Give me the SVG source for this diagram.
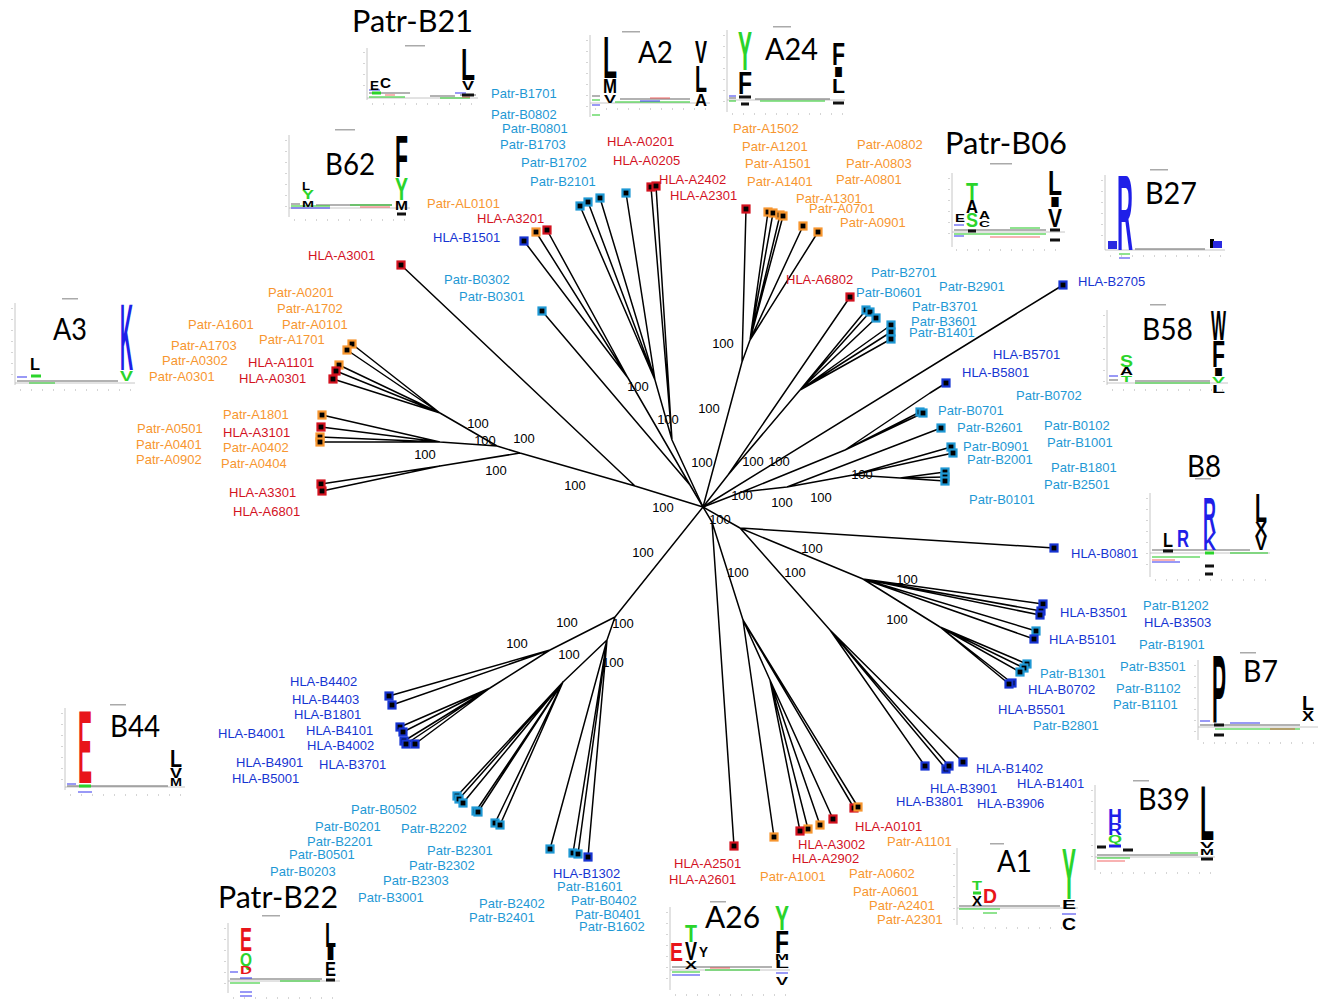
<svg xmlns="http://www.w3.org/2000/svg" xmlns:xlink="http://www.w3.org/1999/xlink" width="1329" height="1007" viewBox="0 0 1329 1007">
<style>
.t{font-family:"Liberation Sans",Arial,sans-serif;font-size:13px}
.pa{fill:#F7962F}.ha{fill:#D3121F}.pb{fill:#1E98D4}.hb{fill:#1734D2}
.bs{font-family:"Liberation Sans",Arial,sans-serif;font-size:13px;fill:#000;text-anchor:middle}
.big{font-family:Lato,"Open Sans",sans-serif;font-size:31px;fill:#000}
.e{stroke:#000;stroke-width:1.5;fill:none;stroke-linejoin:round}
.so,.sr,.sc,.sb{fill:#000;stroke-width:2.2}
.so{stroke:#F7962F}.sr{stroke:#D3121F}.sc{stroke:#1E98D4}.sb{stroke:#1734D2}
.ax{stroke:#b8b8b8;stroke-width:0.8;fill:none}
.tk{stroke:#c8c8c8;stroke-width:1.5;stroke-dasharray:1 10;fill:none}
.ti{fill:#aaa}
.L{font-family:"Liberation Sans",Arial,sans-serif;font-weight:700;font-size:20px}
.k{fill:#000}.g{fill:#2BD42B}.b{fill:#1F1FE8}.r{fill:#E8141A}
.s1{stroke:#555;stroke-width:2;opacity:.45;fill:none}
.s2{stroke:#33cc33;stroke-width:2;opacity:.55;fill:none}
.s3{stroke:#3333ee;stroke-width:2;opacity:.5;fill:none}
.s4{stroke:#e33;stroke-width:1.5;opacity:.5;fill:none}
.bk{stroke:#111;stroke-width:3;fill:none}
.bg{stroke:#2BD42B;stroke-width:3;fill:none}
.bb{stroke:#1F1FE8;stroke-width:3;fill:none}
</style>
<defs>
<rect id="sq" x="-3.5" y="-3.5" width="7" height="7"/>
</defs>

<g id="connectors">
<path class="e" d="M703 507 L635 486 L401 265 M635 486 L520 453 L440 466 L321 484 M440 466 L322 491 M520 453 L497 446 L440 442 L322 415 M440 442 L321 427 M440 442 L320 437 M440 442 L320 442 M497 446 L440 413 L352 344 M440 413 L347 350 M440 413 L339 365 M440 413 L336 371 M440 413 L333 379"/>
<path class="e" d="M703 507 L690 485 L628 378 L524 241 M628 378 L536 232 M628 378 L547 230 M690 485 L542 311"/>
<path class="e" d="M703 507 L672 440 L655 380 L580 206 M655 380 L588 202 M655 380 L600 198 M655 380 L626 193 M672 440 L651 187 M672 440 L656 186"/>
<path class="e" d="M703 507 L742 362 L746 209 M742 362 L750 340 L768 212 M750 340 L773 213 M750 340 L780 215 M750 340 L783 216 M750 340 L803 226 M750 340 L818 232"/>
<path class="e" d="M703 507 L728 475 L850 297 M728 475 L800 390 L866 310 M800 390 L870 312 M800 390 L876 318 M800 390 L891 325 M800 390 L891 332 M800 390 L891 339 M703 507 L1063 285"/>
<path class="e" d="M703 507 L742 492 L845 450 L930 393 L946 383 M845 450 L920 412 M845 450 L923 413 M742 492 L787 487 L941 428 M787 487 L853 475 L951 447 M853 475 L953 453 M853 475 L900 478 L945 472 M900 478 L945 477 M900 478 L945 481"/>
<path class="e" d="M703 507 L740 528 L1054 548 M740 528 L863 579 L1043 604 M863 579 L1041 611 M863 579 L1040 615 M863 579 L1036 631 M863 579 L1034 639 M863 579 L940 627 L1027 664 M940 627 L1024 668 M940 627 L1020 672 M940 627 L1012 683 M940 627 L1009 684 M740 528 L830 630 L925 766 M830 630 L946 769 M830 630 L949 766 M830 630 L963 762"/>
<path class="e" d="M703 507 L712 522 L734 846 M712 522 L743 620 L774 837 M743 620 L770 680 L800 831 M770 680 L808 829 M770 680 L820 825 M770 680 L833 819 M743 620 L854 808 M743 620 L858 807"/>
<path class="e" d="M703 507 L615 617 L550 650 L389 696 M550 650 L392 705 M550 650 L490 688 L400 727 M490 688 L403 732 M490 688 L404 741 M490 688 L406 744 M490 688 L415 744 M615 617 L607 640 L563 682 L457 796 M563 682 L459 799 M563 682 L463 803 M563 682 L476 811 M563 682 L478 812 M563 682 L495 823 M563 682 L500 825 M607 640 L550 849 M607 640 L573 853 M607 640 L578 854 M607 640 L588 857"/>
<g id="bootstrap">
<text class="bs" x="478" y="427.5">100</text><text class="bs" x="485" y="444.5">100</text><text class="bs" x="524" y="442.5">100</text><text class="bs" x="425" y="458.5">100</text><text class="bs" x="496" y="474.5">100</text><text class="bs" x="575" y="489.5">100</text><text class="bs" x="663" y="511.5">100</text><text class="bs" x="638" y="390.5">100</text><text class="bs" x="668" y="423.5">100</text><text class="bs" x="709" y="412.5">100</text><text class="bs" x="702" y="466.5">100</text><text class="bs" x="723" y="347.5">100</text><text class="bs" x="753" y="465.5">100</text><text class="bs" x="779" y="465.5">100</text><text class="bs" x="742" y="499.5">100</text><text class="bs" x="782" y="506.5">100</text><text class="bs" x="821" y="501.5">100</text><text class="bs" x="862" y="478.5">100</text><text class="bs" x="720" y="523.5">100</text><text class="bs" x="812" y="552.5">100</text><text class="bs" x="738" y="576.5">100</text><text class="bs" x="795" y="576.5">100</text><text class="bs" x="907" y="583.5">100</text><text class="bs" x="897" y="623.5">100</text><text class="bs" x="643" y="556.5">100</text><text class="bs" x="567" y="626.5">100</text><text class="bs" x="623" y="627.5">100</text><text class="bs" x="517" y="647.5">100</text><text class="bs" x="569" y="658.5">100</text><text class="bs" x="613" y="666.5">100</text>
</g>
</g>

<g id="node-A3001"><use href="#sq" class="sr" x="401" y="265"/><text class="t ha" x="308" y="259.5">HLA-A3001</text></g>
<g id="node-A3top"><use href="#sq" class="so" x="352" y="344"/><use href="#sq" class="so" x="347" y="350"/><use href="#sq" class="so" x="339" y="365"/><use href="#sq" class="sr" x="336" y="371"/><use href="#sq" class="sr" x="333" y="379"/>
<text class="t pa" x="268" y="296.5">Patr-A0201</text><text class="t pa" x="277" y="312.5">Patr-A1702</text><text class="t pa" x="188" y="328.5">Patr-A1601</text><text class="t pa" x="282" y="328.5">Patr-A0101</text><text class="t pa" x="259" y="343.5">Patr-A1701</text><text class="t pa" x="171" y="349.5">Patr-A1703</text><text class="t pa" x="162" y="364.5">Patr-A0302</text><text class="t ha" x="248" y="366.5">HLA-A1101</text><text class="t pa" x="149" y="380.5">Patr-A0301</text><text class="t ha" x="239" y="382.5">HLA-A0301</text></g>
<g id="node-A3mid"><use href="#sq" class="so" x="322" y="415"/><use href="#sq" class="sr" x="321" y="427"/><use href="#sq" class="so" x="320" y="437"/><use href="#sq" class="so" x="320" y="442"/>
<text class="t pa" x="223" y="418.5">Patr-A1801</text><text class="t pa" x="137" y="432.5">Patr-A0501</text><text class="t ha" x="223" y="436.5">HLA-A3101</text><text class="t pa" x="136" y="448.5">Patr-A0401</text><text class="t pa" x="223" y="451.5">Patr-A0402</text><text class="t pa" x="136" y="463.5">Patr-A0902</text><text class="t pa" x="221" y="467.5">Patr-A0404</text></g>
<g id="node-A33"><use href="#sq" class="sr" x="321" y="484"/><use href="#sq" class="sr" x="322" y="491"/><text class="t ha" x="229" y="496.5">HLA-A3301</text><text class="t ha" x="233" y="515.5">HLA-A6801</text></g>
<g id="node-B15"><use href="#sq" class="sb" x="524" y="241"/><use href="#sq" class="so" x="536" y="232"/><use href="#sq" class="sr" x="547" y="230"/><text class="t pa" x="427" y="207.5">Patr-AL0101</text><text class="t ha" x="477" y="222.5">HLA-A3201</text><text class="t hb" x="433" y="241.5">HLA-B1501</text></g>
<g id="node-B03"><use href="#sq" class="sc" x="542" y="311"/><text class="t pb" x="444" y="283.5">Patr-B0302</text><text class="t pb" x="459" y="300.5">Patr-B0301</text></g>
<g id="node-B17"><use href="#sq" class="sc" x="580" y="206"/><use href="#sq" class="sc" x="588" y="202"/><use href="#sq" class="sc" x="600" y="198"/><use href="#sq" class="sc" x="626" y="193"/>
<text class="t pb" x="491" y="97.5">Patr-B1701</text><text class="t pb" x="491" y="118.5">Patr-B0802</text><text class="t pb" x="502" y="132.5">Patr-B0801</text><text class="t pb" x="500" y="148.5">Patr-B1703</text><text class="t pb" x="521" y="166.5">Patr-B1702</text><text class="t pb" x="530" y="185.5">Patr-B2101</text></g>
<g id="node-A2"><use href="#sq" class="sr" x="651" y="187"/><use href="#sq" class="sr" x="656" y="186"/><text class="t ha" x="607" y="145.5">HLA-A0201</text><text class="t ha" x="613" y="164.5">HLA-A0205</text><text class="t ha" x="659" y="183.5">HLA-A2402</text><text class="t ha" x="670" y="199.5">HLA-A2301</text></g>
<g id="node-A24"><use href="#sq" class="sr" x="746" y="209"/><use href="#sq" class="so" x="768" y="212"/><use href="#sq" class="so" x="773" y="213"/><use href="#sq" class="so" x="780" y="215"/><use href="#sq" class="so" x="783" y="216"/><use href="#sq" class="so" x="803" y="226"/><use href="#sq" class="so" x="818" y="232"/>
<text class="t pa" x="733" y="132.5">Patr-A1502</text><text class="t pa" x="742" y="150.5">Patr-A1201</text><text class="t pa" x="745" y="167.5">Patr-A1501</text><text class="t pa" x="747" y="185.5">Patr-A1401</text><text class="t pa" x="796" y="202.5">Patr-A1301</text><text class="t pa" x="809" y="212.5">Patr-A0701</text><text class="t pa" x="840" y="226.5">Patr-A0901</text><text class="t pa" x="857" y="148.5">Patr-A0802</text><text class="t pa" x="846" y="167.5">Patr-A0803</text><text class="t pa" x="836" y="183.5">Patr-A0801</text></g>
<g id="node-A6802"><use href="#sq" class="sr" x="850" y="297"/><text class="t ha" x="786" y="283.5">HLA-A6802</text></g>
<g id="node-B27c"><use href="#sq" class="sc" x="866" y="310"/><use href="#sq" class="sc" x="870" y="312"/><use href="#sq" class="sc" x="876" y="318"/><use href="#sq" class="sc" x="891" y="325"/><use href="#sq" class="sc" x="891" y="332"/><use href="#sq" class="sc" x="891" y="339"/>
<text class="t pb" x="871" y="276.5">Patr-B2701</text><text class="t pb" x="856" y="296.5">Patr-B0601</text><text class="t pb" x="939" y="290.5">Patr-B2901</text><text class="t pb" x="912" y="310.5">Patr-B3701</text><text class="t pb" x="911" y="325.5">Patr-B3601</text><text class="t pb" x="909" y="336.5">Patr-B1401</text></g>
<g id="node-B2705"><use href="#sq" class="sb" x="1063" y="285"/><text class="t hb" x="1078" y="285.5">HLA-B2705</text></g>
<g id="node-B57"><use href="#sq" class="sb" x="946" y="383"/><text class="t hb" x="993" y="358.5">HLA-B5701</text><text class="t hb" x="962" y="376.5">HLA-B5801</text></g>
<g id="node-B07"><use href="#sq" class="sc" x="920" y="412"/><use href="#sq" class="sc" x="923" y="413"/><text class="t pb" x="1016" y="399.5">Patr-B0702</text><text class="t pb" x="938" y="414.5">Patr-B0701</text></g>
<g id="node-B26"><use href="#sq" class="sc" x="941" y="428"/><text class="t pb" x="957" y="431.5">Patr-B2601</text></g>
<g id="node-B09"><use href="#sq" class="sc" x="951" y="447"/><use href="#sq" class="sc" x="953" y="453"/><text class="t pb" x="963" y="450.5">Patr-B0901</text><text class="t pb" x="967" y="463.5">Patr-B2001</text></g>
<g id="node-B01"><use href="#sq" class="sc" x="945" y="472"/><use href="#sq" class="sc" x="945" y="477"/><use href="#sq" class="sc" x="945" y="481"/>
<text class="t pb" x="1044" y="429.5">Patr-B0102</text><text class="t pb" x="1047" y="446.5">Patr-B1001</text><text class="t pb" x="1051" y="471.5">Patr-B1801</text><text class="t pb" x="1044" y="488.5">Patr-B2501</text><text class="t pb" x="969" y="503.5">Patr-B0101</text></g>
<g id="node-B08"><use href="#sq" class="sb" x="1054" y="548"/><text class="t hb" x="1071" y="557.5">HLA-B0801</text></g>
<g id="node-B35"><use href="#sq" class="sb" x="1043" y="604"/><use href="#sq" class="sb" x="1041" y="611"/><use href="#sq" class="sb" x="1040" y="615"/><use href="#sq" class="sc" x="1036" y="631"/><use href="#sq" class="sb" x="1034" y="639"/>
<text class="t hb" x="1060" y="616.5">HLA-B3501</text><text class="t pb" x="1143" y="609.5">Patr-B1202</text><text class="t hb" x="1144" y="626.5">HLA-B3503</text><text class="t hb" x="1049" y="643.5">HLA-B5101</text><text class="t pb" x="1139" y="648.5">Patr-B1901</text></g>
<g id="node-B7c"><use href="#sq" class="sc" x="1027" y="664"/><use href="#sq" class="sc" x="1024" y="668"/><use href="#sq" class="sc" x="1020" y="672"/><use href="#sq" class="sb" x="1012" y="683"/><use href="#sq" class="sb" x="1009" y="684"/>
<text class="t pb" x="1120" y="670.5">Patr-B3501</text><text class="t pb" x="1040" y="677.5">Patr-B1301</text><text class="t hb" x="1028" y="693.5">HLA-B0702</text><text class="t pb" x="1116" y="692.5">Patr-B1102</text><text class="t pb" x="1113" y="708.5">Patr-B1101</text><text class="t hb" x="998" y="713.5">HLA-B5501</text><text class="t pb" x="1033" y="729.5">Patr-B2801</text></g>
<g id="node-B39c"><use href="#sq" class="sb" x="925" y="766"/><use href="#sq" class="sb" x="946" y="769"/><use href="#sq" class="sb" x="949" y="766"/><use href="#sq" class="sb" x="963" y="762"/>
<text class="t hb" x="976" y="772.5">HLA-B1402</text><text class="t hb" x="1017" y="787.5">HLA-B1401</text><text class="t hb" x="930" y="792.5">HLA-B3901</text><text class="t hb" x="896" y="805.5">HLA-B3801</text><text class="t hb" x="977" y="807.5">HLA-B3906</text></g>
<g id="node-A1c"><use href="#sq" class="sr" x="854" y="808"/><use href="#sq" class="so" x="858" y="807"/><use href="#sq" class="sr" x="833" y="819"/><use href="#sq" class="so" x="820" y="825"/><use href="#sq" class="so" x="808" y="829"/><use href="#sq" class="sr" x="800" y="831"/><use href="#sq" class="so" x="774" y="837"/>
<text class="t ha" x="855" y="830.5">HLA-A0101</text><text class="t pa" x="887" y="845.5">Patr-A1101</text><text class="t ha" x="798" y="848.5">HLA-A3002</text><text class="t ha" x="792" y="862.5">HLA-A2902</text><text class="t pa" x="760" y="880.5">Patr-A1001</text><text class="t pa" x="849" y="877.5">Patr-A0602</text><text class="t pa" x="853" y="895.5">Patr-A0601</text><text class="t pa" x="869" y="909.5">Patr-A2401</text><text class="t pa" x="877" y="923.5">Patr-A2301</text></g>
<g id="node-A25"><use href="#sq" class="sr" x="734" y="846"/><text class="t ha" x="674" y="867.5">HLA-A2501</text><text class="t ha" x="669" y="883.5">HLA-A2601</text></g>
<g id="node-B13c"><use href="#sq" class="sc" x="550" y="849"/><use href="#sq" class="sc" x="573" y="853"/><use href="#sq" class="sc" x="578" y="854"/><use href="#sq" class="sb" x="588" y="857"/>
<text class="t hb" x="553" y="877.5">HLA-B1302</text><text class="t pb" x="557" y="890.5">Patr-B1601</text><text class="t pb" x="571" y="904.5">Patr-B0402</text><text class="t pb" x="575" y="918.5">Patr-B0401</text><text class="t pb" x="579" y="930.5">Patr-B1602</text></g>
<g id="node-B22c"><use href="#sq" class="sc" x="457" y="796"/><use href="#sq" class="sc" x="459" y="799"/><use href="#sq" class="sc" x="463" y="803"/><use href="#sq" class="sc" x="476" y="811"/><use href="#sq" class="sc" x="478" y="812"/><use href="#sq" class="sc" x="495" y="823"/><use href="#sq" class="sc" x="500" y="825"/>
<text class="t pb" x="351" y="813.5">Patr-B0502</text><text class="t pb" x="315" y="830.5">Patr-B0201</text><text class="t pb" x="307" y="845.5">Patr-B2201</text><text class="t pb" x="289" y="858.5">Patr-B0501</text><text class="t pb" x="270" y="875.5">Patr-B0203</text><text class="t pb" x="401" y="832.5">Patr-B2202</text><text class="t pb" x="427" y="854.5">Patr-B2301</text><text class="t pb" x="409" y="869.5">Patr-B2302</text><text class="t pb" x="383" y="884.5">Patr-B2303</text><text class="t pb" x="358" y="901.5">Patr-B3001</text><text class="t pb" x="479" y="907.5">Patr-B2402</text><text class="t pb" x="469" y="921.5">Patr-B2401</text></g>
<g id="node-B44c"><use href="#sq" class="sb" x="389" y="696"/><use href="#sq" class="sb" x="392" y="705"/><use href="#sq" class="sb" x="400" y="727"/><use href="#sq" class="sb" x="403" y="732"/><use href="#sq" class="sb" x="404" y="741"/><use href="#sq" class="sb" x="406" y="744"/><use href="#sq" class="sb" x="415" y="744"/>
<text class="t hb" x="290" y="685.5">HLA-B4402</text><text class="t hb" x="292" y="703.5">HLA-B4403</text><text class="t hb" x="294" y="718.5">HLA-B1801</text><text class="t hb" x="218" y="737.5">HLA-B4001</text><text class="t hb" x="306" y="734.5">HLA-B4101</text><text class="t hb" x="307" y="749.5">HLA-B4002</text><text class="t hb" x="236" y="766.5">HLA-B4901</text><text class="t hb" x="319" y="768.5">HLA-B3701</text><text class="t hb" x="232" y="782.5">HLA-B5001</text></g>

<g id="titles">
<text class="big" x="352" y="32" textLength="121" lengthAdjust="spacingAndGlyphs">Patr-B21</text>
<text class="big" x="638" y="63" textLength="35" lengthAdjust="spacingAndGlyphs">A2</text>
<text class="big" x="765" y="60" textLength="53" lengthAdjust="spacingAndGlyphs">A24</text>
<text class="big" x="945" y="154" textLength="122" lengthAdjust="spacingAndGlyphs">Patr-B06</text>
<text class="big" x="1145" y="204" textLength="52" lengthAdjust="spacingAndGlyphs">B27</text>
<text class="big" x="325" y="175" textLength="50" lengthAdjust="spacingAndGlyphs">B62</text>
<text class="big" x="53" y="340" textLength="34" lengthAdjust="spacingAndGlyphs">A3</text>
<text class="big" x="1142" y="340" textLength="51" lengthAdjust="spacingAndGlyphs">B58</text>
<text class="big" x="1187" y="477" textLength="34" lengthAdjust="spacingAndGlyphs">B8</text>
<text class="big" x="1243" y="682" textLength="35" lengthAdjust="spacingAndGlyphs">B7</text>
<text class="big" x="110" y="737" textLength="50" lengthAdjust="spacingAndGlyphs">B44</text>
<text class="big" x="1138" y="810" textLength="52" lengthAdjust="spacingAndGlyphs">B39</text>
<text class="big" x="997" y="872" textLength="35" lengthAdjust="spacingAndGlyphs">A1</text>
<text class="big" x="705" y="928" textLength="55" lengthAdjust="spacingAndGlyphs">A26</text>
<text class="big" x="218" y="908" textLength="120" lengthAdjust="spacingAndGlyphs">Patr-B22</text>
</g>

<g id="logo-B21">
<path class="ax" d="M367 48 V100 M367 98 H478"/><path class="tk" d="M372 104 H476 M364 52 V96"/><rect class="ti" x="405" y="45" width="20" height="1.5"/>
<path class="s1" d="M369 93 H410 M430 96 H455 M460 95 H476"/><path class="s2" d="M369 97 H405 M440 98 H470"/><path class="s3" d="M369 90 H380 M455 93 H466"/><path class="s4" d="M385 95 H395 M462 97 H470"/>
<path class="bg" d="M372 93 H381"/><path class="bk" d="M462 95 H474"/>
<text class="L k" textLength="9" lengthAdjust="spacingAndGlyphs" transform="translate(370,90) scale(1,.63)">E</text>
<text class="L k" textLength="11" lengthAdjust="spacingAndGlyphs" transform="translate(380,88) scale(1,.77)">C</text>
<text class="L k" textLength="14" lengthAdjust="spacingAndGlyphs" transform="translate(461,80) scale(1,2.24)">L</text>
<text class="L k" textLength="12" lengthAdjust="spacingAndGlyphs" transform="translate(462,90) scale(1,.63)">V</text>
</g>

<g id="logo-A2">
<path class="ax" d="M590 35 V117 M590 103 H710"/><path class="tk" d="M595 109 H708 M587 40 V114"/><rect class="ti" x="622" y="31" width="18" height="1.5"/>
<path class="s1" d="M592 96 H600 M620 99 H690"/><path class="s2" d="M592 100 H600 M615 102 H690 M592 115 H600"/><path class="s3" d="M592 105 H600 M640 101 H660"/><path class="s4" d="M650 98 H670"/>
<text class="L k" textLength="14" lengthAdjust="spacingAndGlyphs" transform="translate(603,78) scale(1,3)">L</text>
<text class="L k" textLength="14" lengthAdjust="spacingAndGlyphs" transform="translate(603,93) scale(1,.98)">M</text>
<text class="L k" textLength="12" lengthAdjust="spacingAndGlyphs" transform="translate(604,103) scale(1,.56)">V</text>
<text class="L k" textLength="12" lengthAdjust="spacingAndGlyphs" transform="translate(695,63) scale(1,1.61)">V</text>
<text class="L k" textLength="12" lengthAdjust="spacingAndGlyphs" transform="translate(695,92) scale(1,1.89)">L</text>
<text class="L k" textLength="12" lengthAdjust="spacingAndGlyphs" transform="translate(695,106) scale(1,.84)">A</text>
</g>

<g id="logo-A24">
<path class="ax" d="M727 30 V112 M727 100 H845"/><path class="tk" d="M732 114 H843 M724 35 V108"/><rect class="ti" x="773" y="26" width="18" height="1.5"/>
<path class="s1" d="M729 98 H736 M755 99 H830"/><path class="s2" d="M729 101 H736 M760 101 H825"/><path class="s3" d="M729 96 H736"/>
<path class="bk" d="M739 97 H751 M741 104 H749"/><path class="bk" d="M833 103 H844"/>
<text class="L g" textLength="14" lengthAdjust="spacingAndGlyphs" transform="translate(738,70) scale(1,2.8)">Y</text>
<text class="L k" textLength="14" lengthAdjust="spacingAndGlyphs" transform="translate(738,94) scale(1,1.54)">F</text>
<text class="L k" textLength="13" lengthAdjust="spacingAndGlyphs" transform="translate(832,65) scale(1,1.54)">F</text>
<text class="L k" textLength="13" lengthAdjust="spacingAndGlyphs" transform="translate(832,77) scale(1,.7)">I</text>
<text class="L k" textLength="13" lengthAdjust="spacingAndGlyphs" transform="translate(832,93) scale(1,1.05)">L</text>
</g>

<g id="logo-B06">
<path class="ax" d="M952 173 V247 M952 232 H1065"/><path class="tk" d="M956 250 H1063 M949 178 V244"/><rect class="ti" x="990" y="163" width="22" height="1.5"/>
<path class="s1" d="M954 230 H1046"/><path class="s2" d="M954 234 H1046 M1010 228 H1040"/><path class="s3" d="M954 225 H964 M954 236 H964"/><path class="s4" d="M990 237 H1040"/>
<path class="bk" d="M968 231 H976 M1050 230 H1060 M1050 240 H1060"/>
<text class="L k" textLength="10" lengthAdjust="spacingAndGlyphs" transform="translate(955,222) scale(1,.56)">E</text>
<text class="L g" textLength="12" lengthAdjust="spacingAndGlyphs" transform="translate(966,200) scale(1,1.19)">T</text>
<text class="L k" textLength="12" lengthAdjust="spacingAndGlyphs" transform="translate(966,213) scale(1,.91)">A</text>
<text class="L g" textLength="12" lengthAdjust="spacingAndGlyphs" transform="translate(966,227) scale(1,.98)">S</text>
<text class="L k" textLength="11" lengthAdjust="spacingAndGlyphs" transform="translate(979,219) scale(1,.56)">A</text>
<text class="L k" textLength="11" lengthAdjust="spacingAndGlyphs" transform="translate(979,227) scale(1,.49)">C</text>
<text class="L k" textLength="14" lengthAdjust="spacingAndGlyphs" transform="translate(1048,195) scale(1,1.75)">L</text>
<text class="L k" textLength="14" lengthAdjust="spacingAndGlyphs" transform="translate(1048,207) scale(1,.77)">I</text>
<text class="L k" textLength="14" lengthAdjust="spacingAndGlyphs" transform="translate(1048,227) scale(1,1.33)">V</text>
</g>

<g id="logo-B27">
<path class="ax" d="M1105 175 V250 M1105 250 H1225"/><path class="tk" d="M1110 256 H1222 M1102 180 V246"/><rect class="ti" x="1150" y="169" width="18" height="1.5"/>
<path class="s1" d="M1135 249 H1205"/><path class="s2" d="M1119 254 H1130"/><path class="s3" d="M1119 258 H1130"/>
<rect x="1108" y="241" width="9" height="8" fill="#2a2ae0"/><rect x="1210" y="239" width="4" height="9" fill="#000"/><rect x="1213" y="241" width="9" height="7" fill="#2a2ae0"/>
<text class="L b" textLength="16" lengthAdjust="spacingAndGlyphs" transform="translate(1117,250) scale(1,5.38)">R</text>
</g>

<g id="logo-B62">
<path class="ax" d="M289 135 V217 M289 208 H410"/><path class="tk" d="M294 220 H408 M286 140 V214"/><rect class="ti" x="335" y="129" width="20" height="1.5"/>
<path class="s1" d="M291 204 H300 M316 205 H392"/><path class="s2" d="M291 206 H330 M350 205 H392"/><path class="s3" d="M291 208 H330"/><path class="s4" d="M360 207 H390"/>
<path class="bk" d="M397 214 H406"/>
<text class="L k" textLength="8" lengthAdjust="spacingAndGlyphs" transform="translate(302,190) scale(1,.56)">L</text>
<text class="L g" textLength="12" lengthAdjust="spacingAndGlyphs" transform="translate(302,199) scale(1,.63)">Y</text>
<text class="L k" textLength="12" lengthAdjust="spacingAndGlyphs" transform="translate(302,207) scale(1,.49)">M</text>
<text class="L k" textLength="13" lengthAdjust="spacingAndGlyphs" transform="translate(395,177) scale(1,2.94)">F</text>
<text class="L g" textLength="13" lengthAdjust="spacingAndGlyphs" transform="translate(395,200) scale(1,1.61)">Y</text>
<text class="L k" textLength="13" lengthAdjust="spacingAndGlyphs" transform="translate(395,210) scale(1,.63)">M</text>
</g>

<g id="logo-A3">
<path class="ax" d="M15 303 V385 M15 383 H135"/><path class="tk" d="M20 390 H133 M12 308 V382"/><rect class="ti" x="62" y="298" width="16" height="1.5"/>
<path class="s1" d="M17 381 H118"/><path class="s3" d="M17 377 H27"/><path class="s2" d="M29 383 H55"/>
<path class="bg" d="M31 376 H41"/>
<text class="L k" textLength="10" lengthAdjust="spacingAndGlyphs" transform="translate(30,370) scale(1,.84)">L</text>
<text class="L b" textLength="13" lengthAdjust="spacingAndGlyphs" transform="translate(120,370) scale(1,4.69)">K</text>
<text class="L g" textLength="13" lengthAdjust="spacingAndGlyphs" transform="translate(120,381) scale(1,.7)">V</text>
</g>

<g id="logo-B58">
<path class="ax" d="M1107 310 V385 M1107 383 H1228"/><path class="tk" d="M1112 390 H1226 M1104 315 V382"/><rect class="ti" x="1150" y="304" width="16" height="1.5"/>
<path class="s1" d="M1109 380 H1118 M1135 381 H1210"/><path class="s3" d="M1109 376 H1118"/><path class="s2" d="M1135 383 H1210"/>
<text class="L g" textLength="13" lengthAdjust="spacingAndGlyphs" transform="translate(1120,367) scale(1,.84)">S</text>
<text class="L k" textLength="13" lengthAdjust="spacingAndGlyphs" transform="translate(1120,375) scale(1,.56)">A</text>
<text class="L g" textLength="11" lengthAdjust="spacingAndGlyphs" transform="translate(1121,382) scale(1,.49)">T</text>
<text class="L k" textLength="15" lengthAdjust="spacingAndGlyphs" transform="translate(1211,340) scale(1,2.1)">W</text>
<text class="L k" textLength="13" lengthAdjust="spacingAndGlyphs" transform="translate(1212,367) scale(1,1.89)">F</text>
<text class="L k" textLength="13" lengthAdjust="spacingAndGlyphs" transform="translate(1212,376) scale(1,.56)">I</text>
<text class="L g" textLength="13" lengthAdjust="spacingAndGlyphs" transform="translate(1212,383) scale(1,.49)">V</text>
<text class="L k" textLength="13" lengthAdjust="spacingAndGlyphs" transform="translate(1212,393) scale(1,.56)">L</text>
</g>

<g id="logo-B8">
<path class="ax" d="M1150 493 V577 M1150 553 H1270"/><path class="tk" d="M1155 580 H1268 M1147 498 V574"/><rect class="ti" x="1195" y="478" width="16" height="1.5"/>
<path class="s1" d="M1152 550 H1250"/><path class="s2" d="M1152 557 H1200 M1230 553 H1268"/><path class="s3" d="M1152 562 H1180"/><path class="s4" d="M1152 560 H1175"/>
<path class="bk" d="M1163 551 H1173 M1205 566 H1214 M1205 574 H1213"/><path class="bg" d="M1205 553 H1214"/>
<text class="L k" textLength="10" lengthAdjust="spacingAndGlyphs" transform="translate(1163,547) scale(1,.98)">L</text>
<text class="L b" textLength="12" lengthAdjust="spacingAndGlyphs" transform="translate(1177,547) scale(1,1.19)">R</text>
<text class="L b" textLength="13" lengthAdjust="spacingAndGlyphs" transform="translate(1203,533) scale(1,2.52)">R</text>
<text class="L b" textLength="13" lengthAdjust="spacingAndGlyphs" transform="translate(1203,550) scale(1,1.19)">K</text>
<text class="L k" textLength="12" lengthAdjust="spacingAndGlyphs" transform="translate(1255,522) scale(1,2.03)">L</text>
<text class="L k" textLength="12" lengthAdjust="spacingAndGlyphs" transform="translate(1255,536) scale(1,.98)">X</text>
<text class="L k" textLength="12" lengthAdjust="spacingAndGlyphs" transform="translate(1255,550) scale(1,.98)">V</text>
</g>

<g id="logo-B7">
<path class="ax" d="M1198 660 V740 M1198 727 H1318"/><path class="tk" d="M1203 743 H1316 M1195 665 V737"/><rect class="ti" x="1240" y="652" width="16" height="1.5"/>
<path class="s1" d="M1200 725 H1300"/><path class="s3" d="M1200 721 H1210 M1230 723 H1260"/><path class="s2" d="M1215 729 H1300"/><path class="s4" d="M1270 729 H1295"/>
<path class="bk" d="M1214 725 H1224 M1214 735 H1224"/>
<text class="L k" textLength="14" lengthAdjust="spacingAndGlyphs" transform="translate(1212,722) scale(1,4.83)">P</text>
<text class="L k" textLength="12" lengthAdjust="spacingAndGlyphs" transform="translate(1302,710) scale(1,1.05)">L</text>
<text class="L k" textLength="12" lengthAdjust="spacingAndGlyphs" transform="translate(1302,721) scale(1,.7)">X</text>
</g>

<g id="logo-B44">
<path class="ax" d="M65 708 V790 M65 787 H185"/><path class="tk" d="M70 795 H183 M62 713 V786"/><rect class="ti" x="110" y="704" width="16" height="1.5"/>
<path class="s1" d="M67 786 H168"/><path class="s3" d="M67 784 H76 M78 792 H92"/><path class="bg" d="M79 786 H91"/>
<text class="L r" textLength="14" lengthAdjust="spacingAndGlyphs" transform="translate(78,783) scale(1,5.24)">E</text>
<text class="L k" textLength="12" lengthAdjust="spacingAndGlyphs" transform="translate(170,767) scale(1,1.19)">L</text>
<text class="L k" textLength="12" lengthAdjust="spacingAndGlyphs" transform="translate(170,778) scale(1,.77)">V</text>
<text class="L k" textLength="12" lengthAdjust="spacingAndGlyphs" transform="translate(170,786) scale(1,.56)">M</text>
</g>

<g id="logo-B39">
<path class="ax" d="M1095 785 V870 M1095 857 H1215"/><path class="tk" d="M1100 873 H1213 M1092 790 V866"/><rect class="ti" x="1133" y="780" width="16" height="1.5"/>
<path class="s1" d="M1097 855 H1198"/><path class="s2" d="M1097 858 H1130 M1170 853 H1198"/><path class="s4" d="M1097 861 H1125"/>
<path class="bk" d="M1097 847 H1106 M1123 850 H1133 M1201 859 H1213"/><path class="bb" d="M1109 846 H1121"/>
<text class="L b" textLength="14" lengthAdjust="spacingAndGlyphs" transform="translate(1108,823) scale(1,1.05)">H</text>
<text class="L b" textLength="14" lengthAdjust="spacingAndGlyphs" transform="translate(1108,835) scale(1,.84)">R</text>
<text class="L g" textLength="14" lengthAdjust="spacingAndGlyphs" transform="translate(1108,843) scale(1,.56)">Q</text>
<text class="L k" textLength="14" lengthAdjust="spacingAndGlyphs" transform="translate(1200,840) scale(1,3.85)">L</text>
<text class="L k" textLength="14" lengthAdjust="spacingAndGlyphs" transform="translate(1200,848) scale(1,.49)">V</text>
<text class="L k" textLength="14" lengthAdjust="spacingAndGlyphs" transform="translate(1200,855) scale(1,.49)">M</text>
</g>

<g id="logo-A1">
<path class="ax" d="M957 848 V925 M957 908 H1078"/><path class="tk" d="M962 928 H1076 M954 853 V922"/><rect class="ti" x="990" y="843" width="14" height="1.5"/>
<path class="s1" d="M959 906 H1060"/><path class="s2" d="M959 909 H1000 M983 913 H997"/><path class="s3" d="M1062 914 H1076"/>
<path class="bg" d="M973 893 H981"/>
<text class="L g" textLength="10" lengthAdjust="spacingAndGlyphs" transform="translate(972,890) scale(1,.63)">T</text>
<text class="L k" textLength="10" lengthAdjust="spacingAndGlyphs" transform="translate(972,906) scale(1,.7)">X</text>
<text class="L r" textLength="14" lengthAdjust="spacingAndGlyphs" transform="translate(983,903) scale(1,1.05)">D</text>
<text class="L g" textLength="14" lengthAdjust="spacingAndGlyphs" transform="translate(1062,899) scale(1,3.57)">Y</text>
<text class="L k" textLength="14" lengthAdjust="spacingAndGlyphs" transform="translate(1062,909) scale(1,.63)">E</text>
<text class="L k" textLength="14" lengthAdjust="spacingAndGlyphs" transform="translate(1062,930) scale(1,.84)">C</text>
</g>

<g id="logo-A26">
<path class="ax" d="M670 907 V990 M670 970 H790"/><path class="tk" d="M675 995 H788 M667 912 V987"/><rect class="ti" x="710" y="901" width="16" height="1.5"/>
<path class="s1" d="M672 967 H772"/><path class="s2" d="M672 972 H700 M705 970 H760"/><path class="s3" d="M672 975 H700 M776 973 H788"/><path class="s4" d="M710 968 H730"/>
<text class="L r" textLength="13" lengthAdjust="spacingAndGlyphs" transform="translate(670,961) scale(1,1.33)">E</text>
<text class="L g" textLength="12" lengthAdjust="spacingAndGlyphs" transform="translate(685,942) scale(1,1.19)">T</text>
<text class="L k" textLength="12" lengthAdjust="spacingAndGlyphs" transform="translate(685,960) scale(1,1.26)">V</text>
<text class="L k" textLength="12" lengthAdjust="spacingAndGlyphs" transform="translate(685,969) scale(1,.56)">X</text>
<text class="L k" textLength="9" lengthAdjust="spacingAndGlyphs" transform="translate(699,957) scale(1,.7)">Y</text>
<text class="L g" textLength="14" lengthAdjust="spacingAndGlyphs" transform="translate(775,930) scale(1,1.75)">Y</text>
<text class="L k" textLength="14" lengthAdjust="spacingAndGlyphs" transform="translate(775,953) scale(1,1.61)">F</text>
<text class="L k" textLength="14" lengthAdjust="spacingAndGlyphs" transform="translate(775,960) scale(1,.49)">M</text>
<text class="L k" textLength="14" lengthAdjust="spacingAndGlyphs" transform="translate(775,968) scale(1,.56)">L</text>
<text class="L k" textLength="12" lengthAdjust="spacingAndGlyphs" transform="translate(776,985) scale(1,.56)">V</text>
</g>

<g id="logo-B22">
<path class="ax" d="M228 923 V993 M228 981 H340"/><path class="tk" d="M233 998 H338 M225 928 V990"/><rect class="ti" x="262" y="915" width="18" height="1.5"/>
<path class="s1" d="M230 979 H322"/><path class="s2" d="M230 983 H260 M280 981 H320"/><path class="s3" d="M230 972 H238 M240 978 H252 M240 992 H252 M240 996 H252"/>
<path class="bk" d="M326 980 H335"/>
<text class="L r" textLength="12" lengthAdjust="spacingAndGlyphs" transform="translate(240,951) scale(1,1.68)">E</text>
<text class="L g" textLength="12" lengthAdjust="spacingAndGlyphs" transform="translate(240,966) scale(1,.91)">Q</text>
<text class="L r" textLength="12" lengthAdjust="spacingAndGlyphs" transform="translate(240,974) scale(1,.56)">D</text>
<text class="L k" textLength="11" lengthAdjust="spacingAndGlyphs" transform="translate(325,947) scale(1,1.75)">L</text>
<text class="L k" textLength="11" lengthAdjust="spacingAndGlyphs" transform="translate(325,960) scale(1,.91)">I</text>
<text class="L k" textLength="11" lengthAdjust="spacingAndGlyphs" transform="translate(325,976) scale(1,1.05)">E</text>
</g>
</svg>
